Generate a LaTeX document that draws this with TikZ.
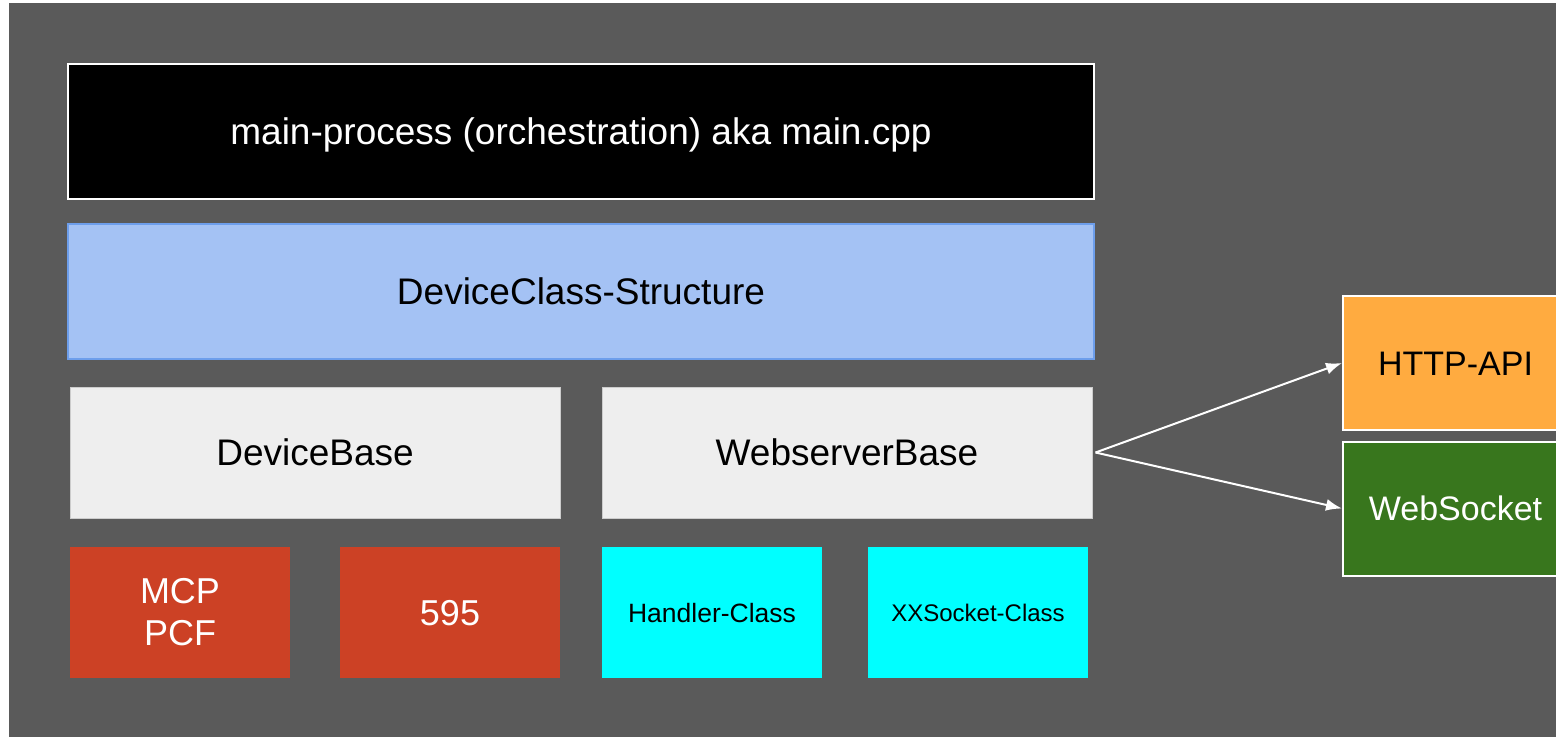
\documentclass[tikz,border=0pt]{standalone}
\usepackage{fontspec}
\setmainfont{Liberation Sans}
\usepackage{tikz}
\usetikzlibrary{arrows.meta}
\usepackage{xcolor}

\definecolor{slidegray}{HTML}{5A5A5A}
\definecolor{layerblue}{HTML}{A4C2F4}
\definecolor{layerblueline}{HTML}{6D9EEB}
\definecolor{basegray}{HTML}{EEEEEE}
\definecolor{basegrayline}{HTML}{CCCCCC}
\definecolor{chipred}{HTML}{CC4125}
\definecolor{classcyan}{HTML}{00FFFF}
\definecolor{apiorange}{HTML}{FFAB40}
\definecolor{sockgreen}{HTML}{38761D}

\begin{document}
\begin{tikzpicture}[x=1pt, y=-1pt,
  layer/.style={inner sep=0pt, minimum width=1026pt, minimum height=135pt,
    text height=26.5pt, text depth=0pt, font=\fontsize{37}{42}\selectfont},
  base/.style={inner sep=0pt, minimum width=490pt, minimum height=131pt,
    text height=26.5pt, text depth=0pt,
    fill=basegray, draw=basegrayline, line width=1pt, font=\fontsize{37}{42}\selectfont},
  part/.style={inner sep=0pt, minimum width=220pt, minimum height=131pt, align=center},
  chip/.style={part, fill=chipred, text=white, font=\fontsize{36}{42}\selectfont},
  cls/.style={part, fill=classcyan, text depth=0pt},
  proto/.style={inner sep=0pt, minimum width=225pt, minimum height=134pt,
    text height=24.4pt, text depth=0pt,
    draw=white, line width=2pt, font=\fontsize{34}{40}\selectfont},
  link/.style={draw=white, line width=2pt, -{Latex[length=16pt, width=12pt]}}]

\useasboundingbox (0,0) rectangle (1556,737);
\fill[white] (0,0) rectangle (1556,737);
\fill[slidegray] (9,3) rectangle (1556,737);

\node[layer, fill=black, draw=white, line width=2pt, text=white] (main) at (581,131.5) {main-process (orchestration) aka main.cpp};
\node[layer, fill=layerblue, draw=layerblueline, line width=2pt] (dcs) at (581,291.5) {DeviceClass-Structure};

\node[base] (devbase) at (315,452.5) {DeviceBase};
\node[base] (websrv) at (847,452.5) {WebserverBase};

\node[chip] (mcp) at (180,612.5) {MCP\\PCF};
\node[chip, text height=25.8pt, text depth=0pt] (chip595) at (450,612.5) {595};
\node[cls, text height=19pt, font=\fontsize{26.5}{30}\selectfont] (handler) at (712,612.5) {Handler-Class};
\node[cls, text height=17.2pt, font=\fontsize{24}{28}\selectfont] (xxsock) at (978,612.5) {XXSocket-Class};

\node[proto, fill=apiorange] (http) at (1455.5,363) {HTTP-API};
\node[proto, fill=sockgreen, text=white] (websock) at (1455.5,508.5) {WebSocket};

\coordinate (fork) at ([xshift=3pt]websrv.east);
\draw[link] (fork) -- (http.west);
\draw[link] (fork) -- (websock.west);
\end{tikzpicture}
\end{document}
